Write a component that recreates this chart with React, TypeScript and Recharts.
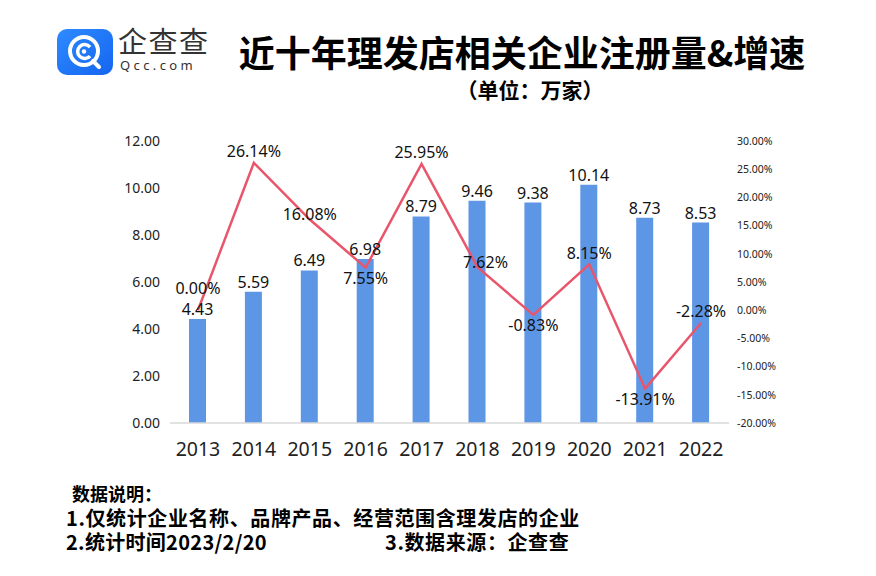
import React from "react";
import { ComposedChart, Bar, Line, XAxis, YAxis, LabelList } from "recharts";

const years = ["2013", "2014", "2015", "2016", "2017", "2018", "2019", "2020", "2021", "2022"];
const registrations = [4.43, 5.59, 6.49, 6.98, 8.79, 9.46, 9.38, 10.14, 8.73, 8.53];
const growth = [0.0, 26.14, 16.08, 7.55, 25.95, 7.62, -0.83, 8.15, -13.91, -2.28];
const leftTicks = [0, 2, 4, 6, 8, 10, 12];
const rightTicks = [-20, -15, -10, -5, 0, 5, 10, 15, 20, 25, 30];
const growthLabelPlacement = ["high", "above", "center", "below", "above", "center", "below", "above", "below", "above"];

const data = years.map((y, i) => ({ year: y, reg: registrations[i], growth: growth[i] }));

const FONT = "'Noto Sans', 'Noto Sans CJK SC', sans-serif";
const CJK = "'Noto Sans CJK SC', 'Noto Sans', sans-serif";

const GrowthLabel = (props: any) => {
  const { x, y, index, value } = props;
  const p = growthLabelPlacement[index];
  const dy = p === "high" ? -20 : p === "above" ? -10 : p === "below" ? 12 : -4;
  const dx = index === 5 ? 8 : 0;
  return (
    <text x={x + dx} y={y + dy} textAnchor="middle" dominantBaseline="middle" fontSize={16} fill="#111" fontFamily={FONT}>
      {Number(value).toFixed(2) + "%"}
    </text>
  );
};

const Logo = () => (
  <svg width={56} height={46} viewBox="0 0 56 46" style={{ position: "absolute", left: 57, top: 29 }}>
    <defs>
      <linearGradient id="lg" x1="0" y1="0" x2="1" y2="1">
        <stop offset="0%" stopColor="#2E8BFF" />
        <stop offset="100%" stopColor="#1565F0" />
      </linearGradient>
    </defs>
    <rect x={0} y={0} width={56} height={46} rx={10} fill="url(#lg)" />
    <circle cx={27} cy={22} r={14} fill="none" stroke="#fff" strokeWidth={4} />
    <path d="M 33 18 A 7 7 0 1 0 33 27" fill="none" stroke="#fff" strokeWidth={3.5} />
    <circle cx={27} cy={22.5} r={2.2} fill="#fff" />
    <path d="M 36 32 L 42 38" stroke="#fff" strokeWidth={4} strokeLinecap="round" />
  </svg>
);

export default function App() {
  return (
    <div style={{ position: "absolute", left: 0, top: 0, width: 876, height: 576, background: "#fff", overflow: "hidden" }}>
      <Logo />
      <div style={{ position: "absolute", left: 118, top: 25, fontFamily: CJK, fontSize: 29, color: "#333", letterSpacing: 1.5, lineHeight: "30px" }}>企查查</div>
      <div style={{ position: "absolute", left: 120, top: 58, fontFamily: FONT, fontSize: 13, color: "#333", letterSpacing: 3.4, lineHeight: "14px" }}>Qcc.com</div>
      <div style={{ position: "absolute", left: 222, top: 28, width: 600, textAlign: "center", fontFamily: CJK, fontWeight: 700, fontSize: 36, color: "#000", lineHeight: "46px" }}>
        近十年理发店相关企业注册量&amp;增速
      </div>
      <div style={{ position: "absolute", left: 430, top: 76, width: 200, textAlign: "center", fontFamily: CJK, fontWeight: 700, fontSize: 21, color: "#000", lineHeight: "26px" }}>
        （单位：万家）
      </div>
      <div style={{ position: "absolute", top: 0, left: 0 }}>
        <ComposedChart width={876} height={576} data={data} margin={{ top: 141, right: 87, bottom: 123, left: 110 }}>
          <XAxis
            dataKey="year"
            tickLine={false}
            axisLine={{ stroke: "#d9d9d9", strokeWidth: 1.5 }}
            tick={{ fontSize: 19.5, fill: "#222", fontFamily: FONT }}
            tickMargin={13}
            height={30}
          />
          <YAxis
            yAxisId="left"
            domain={[0, 12]}
            ticks={leftTicks}
            tickFormatter={(v: number) => v.toFixed(2)}
            axisLine={false}
            tickLine={false}
            tickSize={0}
            tickMargin={10}
            width={60}
            tick={{ fontSize: 14, fill: "#222", fontFamily: FONT }}
          />
          <YAxis
            yAxisId="right"
            orientation="right"
            domain={[-20, 30]}
            ticks={rightTicks}
            tickFormatter={(v: number) => v.toFixed(2) + "%"}
            axisLine={false}
            tickLine={false}
            tickSize={0}
            tickMargin={8}
            width={60}
            tick={{ fontSize: 10.5, fill: "#222", fontFamily: FONT }}
          />
          <Bar yAxisId="left" dataKey="reg" fill="#5E96E6" barSize={17} isAnimationActive={false}>
            <LabelList dataKey="reg" position="top" offset={4} formatter={(v: any) => Number(v).toFixed(2)} style={{ fontSize: 16, fill: "#111", fontFamily: FONT }} />
          </Bar>
          <Line yAxisId="right" dataKey="growth" stroke="#E9566C" strokeWidth={2.5} dot={false} isAnimationActive={false}>
            <LabelList dataKey="growth" content={<GrowthLabel />} />
          </Line>
        </ComposedChart>
      </div>
      <div style={{ position: "absolute", left: 72, top: 483, fontFamily: CJK, fontWeight: 700, fontSize: 18, color: "#000", lineHeight: "20px" }}>数据说明：</div>
      <div style={{ position: "absolute", left: 66, top: 507, fontFamily: CJK, fontWeight: 700, fontSize: 20, letterSpacing: 0.6, color: "#000", lineHeight: "21px", whiteSpace: "nowrap" }}>
        1.仅统计企业名称、品牌产品、经营范围含理发店的企业
      </div>
      <div style={{ position: "absolute", left: 66, top: 531, fontFamily: CJK, fontWeight: 700, fontSize: 20, letterSpacing: 0.3, color: "#000", lineHeight: "21px", whiteSpace: "nowrap" }}>
        2.统计时间2023/2/20
      </div>
      <div style={{ position: "absolute", left: 385, top: 531, fontFamily: CJK, fontWeight: 700, fontSize: 20, letterSpacing: 0.6, color: "#000", lineHeight: "21px", whiteSpace: "nowrap" }}>
        3.数据来源：企查查
      </div>
    </div>
  );
}
